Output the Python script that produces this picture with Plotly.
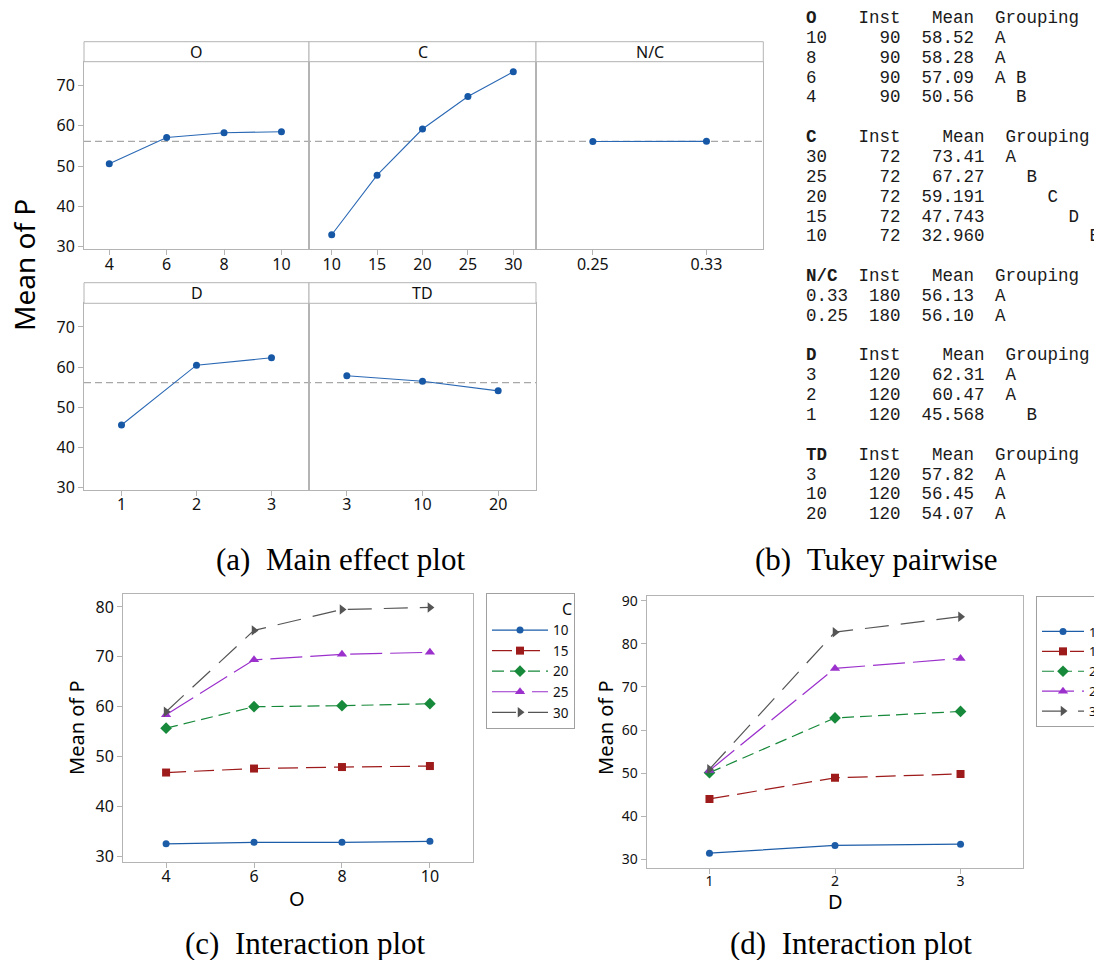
import numpy as np
import plotly.graph_objects as go

# page body has an 8px margin, so the figure is sized/offset to compensate
OFF = 8
W, H = 1102 - OFF, 960 - OFF

# ---------------- data: main effects ----------------
O_levels = ["4", "6", "8", "10"]
O_means = [50.56, 57.09, 58.28, 58.52]
C_levels = ["10", "15", "20", "25", "30"]
C_means = [32.960, 47.743, 59.191, 67.27, 73.41]
NC_levels = ["0.25", "0.33"]
NC_means = [56.10, 56.13]
D_levels = ["1", "2", "3"]
D_means = [45.568, 60.47, 62.31]
TD_levels = ["3", "10", "20"]
TD_means = [57.82, 56.45, 54.07]

# ---------------- data: interaction plots ----------------
C_series = ["10", "15", "20", "25", "30"]
OxC_10 = [32.5, 32.8, 32.8, 33.0]
OxC_15 = [46.8, 47.6, 47.9, 48.1]
OxC_20 = [55.7, 60.0, 60.2, 60.6]
OxC_25 = [58.4, 69.4, 70.5, 70.9]
OxC_30 = [59.0, 75.3, 79.5, 79.9]
DxC_10 = [31.4, 33.2, 33.5]
DxC_15 = [44.0, 48.9, 49.8]
DxC_20 = [50.1, 62.8, 64.3]
DxC_25 = [50.6, 74.3, 76.6]
DxC_30 = [50.9, 82.7, 86.3]

# ---------------- data: Tukey pairwise tables ----------------
TK_O_level = ["10", "8", "6", "4"]
TK_O_inst = [90, 90, 90, 90]
TK_O_mean = ["58.52", "58.28", "57.09", "50.56"]
TK_O_group = ["A", "A", "A B", "  B"]
TK_C_level = ["30", "25", "20", "15", "10"]
TK_C_inst = [72, 72, 72, 72, 72]
TK_C_mean = ["73.41", "67.27", "59.191", "47.743", "32.960"]
TK_C_group = ["A", "  B", "    C", "      D", "        E"]
TK_NC_level = ["0.33", "0.25"]
TK_NC_inst = [180, 180]
TK_NC_mean = ["56.13", "56.10"]
TK_NC_group = ["A", "A"]
TK_D_level = ["3", "2", "1"]
TK_D_inst = [120, 120, 120]
TK_D_mean = ["62.31", "60.47", "45.568"]
TK_D_group = ["A", "A", "  B"]
TK_TD_level = ["3", "10", "20"]
TK_TD_inst = [120, 120, 120]
TK_TD_mean = ["57.82", "56.45", "54.07"]
TK_TD_group = ["A", "A", "A"]

# ---------------- helpers ----------------
def px(x):
    return (x - OFF) / W


def py(y):
    return 1 - (y - OFF) / H


TICKFONT = "Noto Sans"
BORDER = "#b4b4b4"
ME_BLUE = "#1657a6"

fig = go.Figure()

# ---------- main effects panels ----------
panels = [
    ("x", "y", O_levels, O_means),
    ("x2", "y2", C_levels, C_means),
    ("x3", "y3", NC_levels, NC_means),
    ("x4", "y4", D_levels, D_means),
    ("x5", "y5", TD_levels, TD_means),
]
for xa, ya, lv, mv in panels:
    fig.add_trace(go.Scatter(x=lv, y=mv, xaxis=xa, yaxis=ya, mode="lines+markers",
                             line=dict(color="#2a68b4", width=1.1),
                             marker=dict(color=ME_BLUE, size=7, symbol="circle"),
                             showlegend=False, hoverinfo="skip"))

# ---------- interaction plots ----------
STYLE = {
    "10": dict(color="#1d5da8", symbol="circle", size=7, dash="solid"),
    "15": dict(color="#9e1b1b", symbol="square", size=8, dash="20px,8px"),
    "20": dict(color="#17893a", symbol="diamond", size=9, dash="12px,6px"),
    "25": dict(color="#9b30cc", symbol="triangle-up", size=9, dash="32px,8px"),
    "30": dict(color="#555555", symbol="triangle-right", size=9, dash="24px,12px"),
}
OxC = [OxC_10, OxC_15, OxC_20, OxC_25, OxC_30]
DxC = [DxC_10, DxC_15, DxC_20, DxC_25, DxC_30]
for name, vals in zip(C_series, OxC):
    s = STYLE[name]
    fig.add_trace(go.Scatter(x=O_levels, y=vals, xaxis="x6", yaxis="y6", name=name,
                             mode="lines+markers", legend="legend",
                             line=dict(color=s["color"], width=1.2, dash=s["dash"]),
                             marker=dict(color=s["color"], size=s["size"], symbol=s["symbol"]),
                             hoverinfo="skip"))
for name, vals in zip(C_series, DxC):
    s = STYLE[name]
    fig.add_trace(go.Scatter(x=D_levels, y=vals, xaxis="x7", yaxis="y7", name=name,
                             mode="lines+markers", legend="legend2",
                             line=dict(color=s["color"], width=1.2, dash=s["dash"]),
                             marker=dict(color=s["color"], size=s["size"], symbol=s["symbol"]),
                             hoverinfo="skip"))


def xaxis(dom, rng, cats, fs=16, anchor="y", standoff=-5):
    return dict(domain=[px(dom[0]), px(dom[1])], range=rng, type="category",
                categoryorder="array", categoryarray=cats, anchor=anchor,
                showline=True, mirror=True, linecolor=BORDER, linewidth=1,
                showgrid=False, zeroline=False, ticks="outside", ticklen=5,
                tickcolor=BORDER, tickfont=dict(family=TICKFONT, size=fs, color="#111"),
                ticklabelstandoff=standoff, fixedrange=True, automargin=False)


def yaxis(dom, rng, tv, labels=True, fs=16, anchor="x"):
    return dict(domain=[py(dom[1]), py(dom[0])], range=rng, anchor=anchor,
                showline=True, mirror=True, linecolor=BORDER, linewidth=1,
                showgrid=False, zeroline=False,
                ticks="outside" if labels else "", ticklen=5, tickcolor=BORDER,
                tickvals=tv, showticklabels=labels,
                tickfont=dict(family=TICKFONT, size=fs, color="#111"), fixedrange=True,
                automargin=False)


ME_RANGE = [29.35, 75.9]
ME_TICKS = [30, 40, 50, 60, 70]
TOP = (61.7, 249.3)
BOT = (303.3, 490)

fig.update_layout(
    xaxis=xaxis((84, 309), [-0.44, 3.48], O_levels, anchor="y"),
    yaxis=yaxis(TOP, ME_RANGE, ME_TICKS, True, anchor="x"),
    xaxis2=xaxis((309, 536), [-0.5, 4.5], C_levels, anchor="y2"),
    yaxis2=yaxis(TOP, ME_RANGE, ME_TICKS, False, anchor="x2"),
    xaxis3=xaxis((536, 763.3), [-0.5, 1.5], NC_levels, anchor="y3"),
    yaxis3=yaxis(TOP, ME_RANGE, ME_TICKS, False, anchor="x3"),
    xaxis4=xaxis((84, 309), [-0.5, 2.5], D_levels, anchor="y4"),
    yaxis4=yaxis(BOT, ME_RANGE, ME_TICKS, True, anchor="x4"),
    xaxis5=xaxis((309, 536), [-0.5, 2.5], TD_levels, anchor="y5"),
    yaxis5=yaxis(BOT, ME_RANGE, ME_TICKS, False, anchor="x5"),
    xaxis6=xaxis((123, 473), [-0.49, 3.49], O_levels, fs=16, anchor="y6", standoff=-5),
    yaxis6=yaxis((593.5, 862), [28.86, 82.7], [30, 40, 50, 60, 70, 80], True, fs=16, anchor="x6"),
    xaxis7=xaxis((646.7, 1023.3), [-0.5, 2.5], D_levels, fs=14, anchor="y7", standoff=-5),
    yaxis7=yaxis((596, 868.3), [27.9, 91.1], [30, 40, 50, 60, 70, 80, 90], True, fs=14, anchor="x7"),
)

# ---------- shapes: header strips and grand-mean lines ----------
grand_mean = float(np.mean(C_means))
shapes = []
for (x0, x1) in [(84, 309), (309, 536), (536, 763.3)]:
    shapes.append(dict(type="rect", xref="paper", yref="paper", x0=px(x0), x1=px(x1),
                       y0=py(61.7), y1=py(41.7), line=dict(color=BORDER, width=1),
                       fillcolor="white", layer="above"))
for (x0, x1) in [(84, 309), (309, 536)]:
    shapes.append(dict(type="rect", xref="paper", yref="paper", x0=px(x0), x1=px(x1),
                       y0=py(303.3), y1=py(282.7), line=dict(color=BORDER, width=1),
                       fillcolor="white", layer="above"))
shapes.append(dict(type="line", xref="paper", yref="y", x0=px(84), x1=px(763.3),
                   y0=grand_mean, y1=grand_mean, layer="below",
                   line=dict(color="#a8a8a8", width=1.2, dash="7px,4px")))
shapes.append(dict(type="line", xref="paper", yref="y4", x0=px(84), x1=px(536),
                   y0=grand_mean, y1=grand_mean, layer="below",
                   line=dict(color="#a8a8a8", width=1.2, dash="7px,4px")))

# ---------- annotations ----------
ann = []


def text(x, y, s, size, family=TICKFONT, angle=0, xanchor="center", color="#111"):
    ann.append(dict(x=px(x), y=py(y), xref="paper", yref="paper", text=s,
                    showarrow=False, textangle=angle, xanchor=xanchor, yanchor="middle",
                    font=dict(family=family, size=size, color=color)))


for lab, cx, cy in [("O", 196.5, 51.7), ("C", 422.5, 51.7), ("N/C", 649.6, 51.7),
                    ("D", 196.5, 293), ("TD", 422.5, 293)]:
    text(cx, cy, lab, 16)

text(24, 265, "Mean of P", 28, angle=-90, color="#000")
text(76, 728, "Mean of P", 20, angle=-90, color="#000")
text(297, 898, "O", 20, color="#000")
text(605, 728, "Mean of P", 20, angle=-90, color="#000")
text(835, 901, "D", 20, color="#000")

SERIF = "Liberation Serif, Times New Roman, serif"
NB = "\u00a0"
text(340, 559, "(a)" + NB * 2 + "Main effect plot", 31, family=SERIF, color="#000")
text(876, 559, "(b)" + NB * 2 + "Tukey pairwise", 31, family=SERIF, color="#000")
text(306, 943, "(c)" + NB * 2 + "Interaction plot", 31, family=SERIF, color="#000")
text(851, 943, "(d)" + NB * 2 + "Interaction plot", 31, family=SERIF, color="#000")

# Tukey table as monospace text lines
sections = [
    ("O", TK_O_level, TK_O_inst, TK_O_mean, TK_O_group),
    ("C", TK_C_level, TK_C_inst, TK_C_mean, TK_C_group),
    ("N/C", TK_NC_level, TK_NC_inst, TK_NC_mean, TK_NC_group),
    ("D", TK_D_level, TK_D_inst, TK_D_mean, TK_D_group),
    ("TD", TK_TD_level, TK_TD_inst, TK_TD_mean, TK_TD_group),
]
k = 0
MONO = "Liberation Mono, Courier New, monospace"
for name, lv, inst, mean, grp in sections:
    mw = max(len(m) for m in mean)
    head = "<b>" + name + "</b>" + NB * (5 - len(name)) + \
        ("Inst".rjust(4) + "  " + "Mean".rjust(mw) + "  Grouping").replace(" ", NB)
    text(804, 18 + k * 19.85, head, 17.5, family=MONO, xanchor="left", color="#1a1a1a")
    k += 1
    for l, i, m, g in zip(lv, inst, mean, grp):
        row = (l.ljust(5) + str(i).rjust(4) + "  " + m.rjust(mw) + "  " + g).replace(" ", NB)
        text(804, 18 + k * 19.85, row, 17.5, family=MONO, xanchor="left", color="#1a1a1a")
        k += 1
    k += 1

legend_common = dict(bordercolor="#a0a0a0", borderwidth=1, bgcolor="white",
                     xanchor="left", yanchor="top", tracegroupgap=0)
fig.update_layout(
    width=W, height=H, margin=dict(l=0, r=0, t=0, b=0, pad=0, autoexpand=False),
    paper_bgcolor="white", plot_bgcolor="rgba(0,0,0,0)",
    shapes=shapes, annotations=ann,
    legend=dict(x=px(486), y=py(593), font=dict(family=TICKFONT, size=13.5, color="#111"),
                itemwidth=56,
                title=dict(text="C", side="top right", font=dict(family=TICKFONT, size=16, color="#111")),
                **legend_common),
    legend2=dict(x=px(1036), y=py(596), font=dict(family=TICKFONT, size=13, color="#111"),
                 itemwidth=42,
                 title=dict(text="C", side="top right", font=dict(family=TICKFONT, size=15, color="#111")),
                 **legend_common),
)

fig.write_html("out.html", config={"displayModeBar": False})
